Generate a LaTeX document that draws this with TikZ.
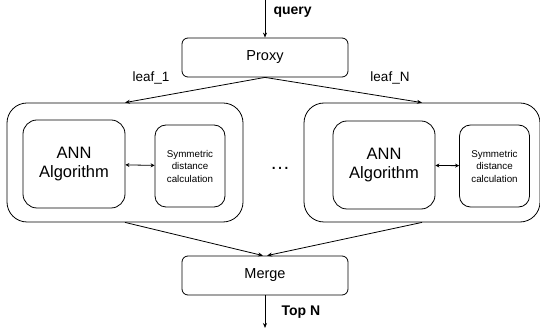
\documentclass[tikz,border=0pt]{standalone}
\usepackage{fontspec}
\setmainfont{Liberation Sans}
\usetikzlibrary{arrows.meta,positioning}

\begin{document}
\begin{tikzpicture}[
      x=1pt, y=-1pt,
      box/.style={draw, thick, rounded corners=6pt, align=center, minimum width=166pt, minimum height=39pt, font=\fontsize{14.5}{16}\selectfont},
      leafbox/.style={draw, thick, rounded corners=20pt, minimum width=236pt, minimum height=119pt},
      annbox/.style={draw, thick, rounded corners=14pt, align=center, minimum width=102pt, minimum height=88pt, font=\fontsize{16.5}{19}\selectfont},
      symbox/.style={draw, thick, rounded corners=11pt, align=center, minimum width=70pt, minimum height=82pt, font=\fontsize{9.8}{12.5}\selectfont},
      lbl/.style={font=\fontsize{13.5}{15}\selectfont},
      arr/.style={-{Stealth[length=5pt, width=4pt]}, thick},
      darr/.style={{Stealth[length=4pt, width=4pt]}-{Stealth[length=4pt, width=4pt]}, thick}
    ]
      \useasboundingbox (0,0) rectangle (540,328);

      \node[box] (proxy) at (265,57.5) {Proxy};
      \node[box] (merge) at (265,275.5) {Merge};

      \node[leafbox] (leaf1) at (125,162.5) {};
      \node[annbox] (ann1) at (74,164) {ANN\\Algorithm};
      \node[symbox] (sym1) at (190,166) {Symmetric\\distance\\calculation};

      \node[leafbox] (leafN) at (422,162.5) {};
      \node[annbox] (annN) at (384,165) {ANN\\Algorithm};
      \node[symbox] (symN) at (494.5,166) {Symmetric\\distance\\calculation};

      \node[font=\fontsize{20}{20}\selectfont] (dots) at (280,168) {\dots};

      \coordinate (qin) at (265,0);
      \coordinate (qout) at (265,328);
      \node[font=\bfseries\fontsize{14}{16}\selectfont, anchor=west] (query) at (270,12) {query};
      \node[font=\bfseries\fontsize{14}{16}\selectfont, anchor=west] (topn) at (278,312) {Top N};
      \node[lbl] (l1) at (151,78) {leaf\_1};
      \node[lbl] (lN) at (390,78) {leaf\_N};

      \draw[arr] (qin) -- (proxy);
      \draw[arr] (proxy.south) -- (leaf1.north);
      \draw[arr] (proxy.south) -- (leafN.north);
      \draw[darr] (ann1) -- (sym1);
      \draw[darr] (annN) -- (symN);
      \draw[arr] (leaf1.south) -- ([xshift=-2pt]merge.north);
      \draw[arr] (leafN.south) -- ([xshift=2pt]merge.north);
      \draw[arr] (merge) -- (qout);
    \end{tikzpicture}
\end{document}
